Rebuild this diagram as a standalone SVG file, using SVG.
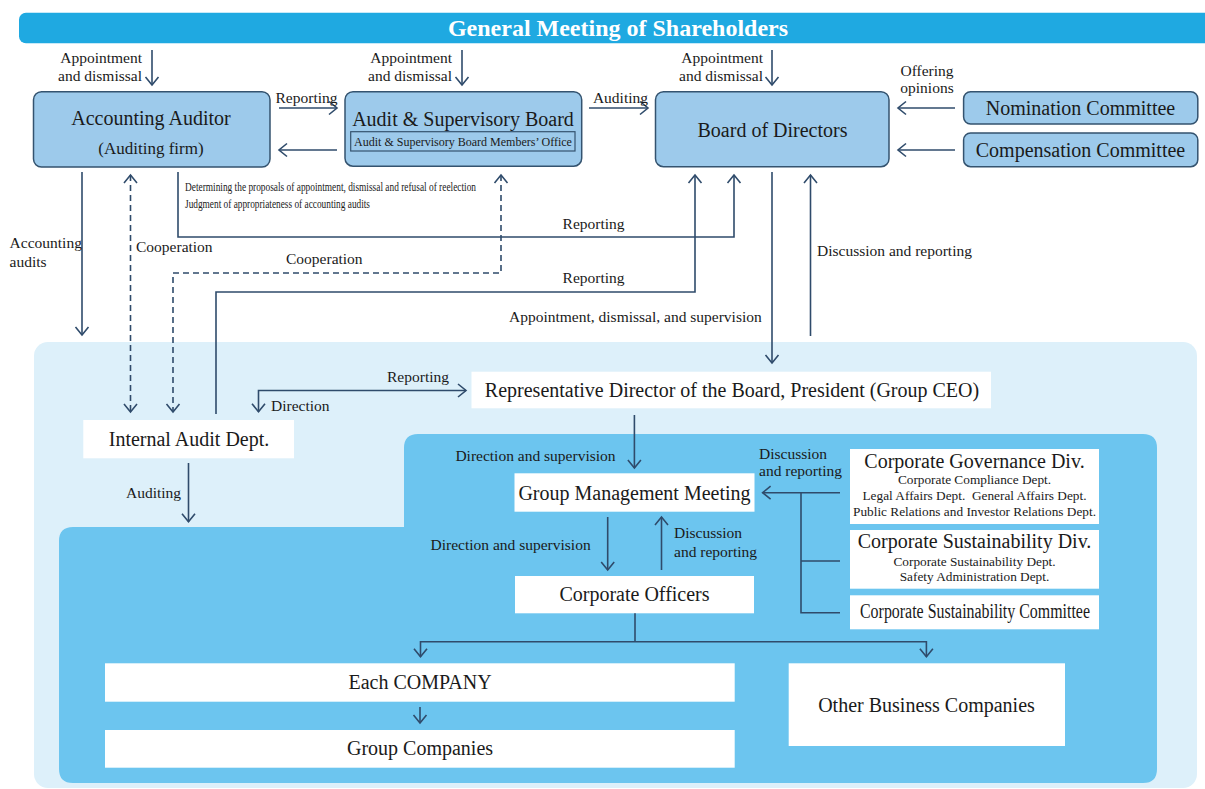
<svg xmlns="http://www.w3.org/2000/svg" width="1205" height="789" viewBox="0 0 1205 789">
<style>
text{font-family:"Liberation Serif","Times New Roman",serif;fill:#1a1a1a}
.lbl{font-size:15.5px}
.t20{font-size:20px}
.c{text-anchor:middle}
.e{text-anchor:end}
.sub{font-size:13.3px}
.box{fill:#9DCAEB;stroke:#34536F;stroke-width:1.5}
.wb{fill:#FFFFFF}
.ln{fill:none;stroke:#2F4B6B;stroke-width:1.6}
.dash{stroke-dasharray:6 4}
.arr{marker-end:url(#ah)}
.arr2{marker-start:url(#ah);marker-end:url(#ah)}
</style>
<defs>
<marker id="ah" viewBox="-10 -8 12 16" refX="0" refY="0" markerWidth="12" markerHeight="16" markerUnits="userSpaceOnUse" orient="auto-start-reverse">
<path d="M-8,-6.5 L0,0 L-8,6.5" fill="none" stroke="#2F4B6B" stroke-width="1.6" stroke-dasharray="none"/>
</marker>
</defs>
<rect width="1205" height="789" fill="#FFFFFF"/>
<!-- panels -->
<rect x="34" y="342" width="1163" height="446" rx="14" fill="#DDF0FA"/>
<path d="M418,434 H1143 Q1157,434 1157,448 V769 Q1157,783 1143,783 H73 Q59,783 59,769 V541 Q59,527 73,527 H404 V448 Q404,434 418,434 Z" fill="#6CC5EF"/>
<!-- banner -->
<g id="gms">
<rect x="19" y="12.7" width="1200" height="30.5" rx="7" fill="#1FA9E1"/>
<text x="618" y="36" class="c" style="font-size:24px;font-weight:bold;fill:#FFFFFF">General Meeting of Shareholders</text>
</g>
<g id="accounting-auditor">
<rect class="box" x="33.5" y="91.7" width="236.5" height="75.3" rx="8"/>
<text x="151" y="125" class="c t20">Accounting Auditor</text>
<text x="151" y="154" class="c" style="font-size:17px">(Auditing firm)</text>
</g>
<g id="audit-board">
<rect class="box" x="345" y="91.7" width="236.7" height="74.5" rx="8"/>
<text x="463" y="126" class="c t20">Audit &amp; Supervisory Board</text>
<rect x="350.7" y="131.7" width="224.3" height="19.3" fill="none" stroke="#34536F" stroke-width="1.2"/>
<text x="463" y="146" class="c" style="font-size:12px">Audit &amp; Supervisory Board Members’ Office</text>
</g>
<g id="board">
<rect class="box" x="655.5" y="91.7" width="233.5" height="75" rx="8"/>
<text x="772.5" y="136.5" class="c t20">Board of Directors</text>
</g>
<g id="nomination">
<rect class="box" x="963.6" y="91.7" width="234.2" height="32.3" rx="7"/>
<text x="1080.5" y="115" class="c t20">Nomination Committee</text>
</g>
<g id="compensation">
<rect class="box" x="963.6" y="133" width="234.2" height="33.7" rx="7"/>
<text x="1080.5" y="156.5" class="c t20">Compensation Committee</text>
</g>
<g id="ceo">
<rect class="wb" x="471.5" y="371.7" width="519.5" height="36.6"/>
<text x="732" y="396.7" class="c t20">Representative Director of the Board, President (Group CEO)</text>
</g>
<g id="internal-audit">
<rect class="wb" x="83.3" y="420" width="210.7" height="38.3"/>
<text x="189" y="446" class="c t20">Internal Audit Dept.</text>
</g>
<g id="gmm">
<rect class="wb" x="514.5" y="473.3" width="240" height="38.4"/>
<text x="634.5" y="500" class="c t20">Group Management Meeting</text>
</g>
<g id="officers">
<rect class="wb" x="515" y="576" width="239" height="37.3"/>
<text x="634.5" y="601" class="c t20">Corporate Officers</text>
</g>
<g id="gov-div">
<rect class="wb" x="850" y="449" width="249" height="75"/>
<text x="974.5" y="467.5" class="c t20">Corporate Governance Div.</text>
<text x="974.5" y="484.3" class="c sub">Corporate Compliance Dept.</text>
<text x="974.5" y="500" class="c sub" xml:space="preserve">Legal Affairs Dept.  General Affairs Dept.</text>
<text x="974.5" y="516" class="c sub">Public Relations and Investor Relations Dept.</text>
</g>
<g id="sust-div">
<rect class="wb" x="850" y="530" width="249" height="58.7"/>
<text x="974.5" y="548.3" class="c t20">Corporate Sustainability Div.</text>
<text x="974.5" y="565.7" class="c sub">Corporate Sustainability Dept.</text>
<text x="974.5" y="580.7" class="c sub">Safety Administration Dept.</text>
</g>
<g id="sust-committee">
<rect class="wb" x="850" y="595.3" width="249" height="34"/>
<text x="860" y="618.3" class="t20" textLength="230" lengthAdjust="spacingAndGlyphs">Corporate Sustainability Committee</text>
</g>
<g id="each-company">
<rect class="wb" x="105" y="663.3" width="629.7" height="38.4"/>
<text x="420" y="689" class="c t20">Each COMPANY</text>
</g>
<g id="group-companies">
<rect class="wb" x="105" y="730" width="629.7" height="37.7"/>
<text x="420" y="755" class="c t20">Group Companies</text>
</g>
<g id="other-business">
<rect class="wb" x="788.7" y="663.3" width="276.3" height="82.7"/>
<text x="926.5" y="711.5" class="c t20">Other Business Companies</text>
</g>
<g id="connectors">
<path class="ln arr" d="M152,50 V85"/>
<path class="ln arr" d="M462,50 V85"/>
<path class="ln arr" d="M772,50 V85"/>
<path class="ln arr" d="M279,108 H337"/>
<path class="ln arr" d="M337,150 H279"/>
<path class="ln arr" d="M589,108 H648"/>
<path class="ln arr" d="M955,108 H898"/>
<path class="ln arr" d="M955,150 H898"/>
<path class="ln arr" d="M82,172 V335"/>
<path class="ln dash arr2" d="M130.5,175 V412"/>
<path class="ln arr" d="M178,172 V237 H734 V175"/>
<path class="ln dash arr2" d="M501,175 V273 H173 V412"/>
<path class="ln arr" d="M216,414 V292 H695 V175"/>
<path class="ln arr" d="M772,172 V363"/>
<path class="ln arr" d="M810.5,336 V175"/>
<path class="ln arr2" d="M258.5,411.7 V390.5 H466"/>
<path class="ln arr" d="M188.5,463 V521.7"/>
<path class="ln arr" d="M634.4,415 V468"/>
<path class="ln arr" d="M607.7,517 V570"/>
<path class="ln arr" d="M661.5,570 V517"/>
<path class="ln arr" d="M840,492.7 H762.6"/>
<path class="ln" d="M801,492.7 V612.7 H840 M801,561 H840"/>
<path class="ln" d="M635,613.3 V641.7"/>
<path class="ln arr" d="M635,641.7 H420.5 V656.7"/>
<path class="ln arr" d="M635,641.7 H926.4 V656.7"/>
<path class="ln arr" d="M420,707 V723"/>
</g>
<g id="labels">
<text x="142" y="63" class="lbl e">Appointment</text>
<text x="142" y="81" class="lbl e">and dismissal</text>
<text x="452" y="63" class="lbl e">Appointment</text>
<text x="452" y="81" class="lbl e">and dismissal</text>
<text x="763" y="63" class="lbl e">Appointment</text>
<text x="763" y="81" class="lbl e">and dismissal</text>
<text x="275.5" y="102.5" class="lbl">Reporting</text>
<text x="648" y="102.5" class="lbl e">Auditing</text>
<text x="927" y="76" class="lbl c">Offering</text>
<text x="927" y="93" class="lbl c">opinions</text>
<text x="185" y="191" style="font-size:12.5px" textLength="291" lengthAdjust="spacingAndGlyphs">Determining the proposals of appointment, dismissal and refusal of reelection</text>
<text x="185" y="208" style="font-size:12.5px" textLength="185" lengthAdjust="spacingAndGlyphs">Judgment of appropriateness of accounting audits</text>
<text x="562.6" y="229" class="lbl">Reporting</text>
<text x="9.6" y="248" class="lbl">Accounting</text>
<text x="9.6" y="267" class="lbl">audits</text>
<text x="136" y="252" class="lbl">Cooperation</text>
<text x="286" y="264" class="lbl">Cooperation</text>
<text x="562.6" y="283" class="lbl">Reporting</text>
<text x="509" y="322" class="lbl">Appointment, dismissal, and supervision</text>
<text x="817" y="256" class="lbl">Discussion and reporting</text>
<text x="387" y="382" class="lbl">Reporting</text>
<text x="271" y="410.5" class="lbl">Direction</text>
<text x="126" y="498" class="lbl">Auditing</text>
<text x="455.4" y="461" class="lbl">Direction and supervision</text>
<text x="759" y="459" class="lbl">Discussion</text>
<text x="759" y="476" class="lbl">and reporting</text>
<text x="430.5" y="550" class="lbl">Direction and supervision</text>
<text x="674" y="538.3" class="lbl">Discussion</text>
<text x="674" y="556.7" class="lbl">and reporting</text>
</g>
</svg>
